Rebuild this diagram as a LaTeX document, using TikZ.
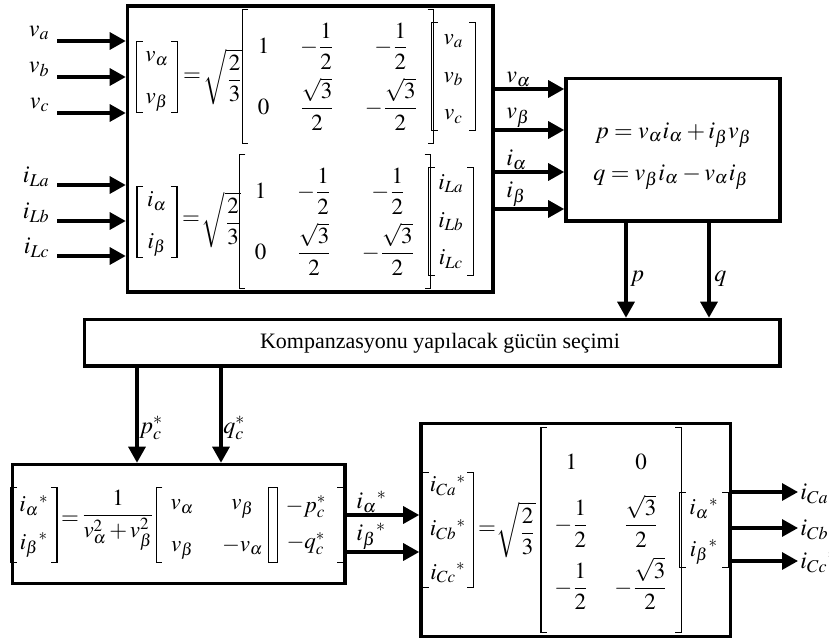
\documentclass[tikz,border=0pt]{standalone}
\usepackage{amsmath}
\usepackage{mathptmx}
\usepackage{fontspec}
\setmainfont{Liberation Serif}
\usetikzlibrary{arrows.meta,fit,calc}
\tikzset{
  blk/.style={draw, line width=1.8pt, inner sep=0pt},
  arr/.style={line width=1.6pt, -{Triangle[length=8pt,width=8.5pt]}},
  eq/.style={inner sep=0pt, font=\fontsize{11.5}{13.8}\selectfont},
  mx/.style 2 args={eq, minimum width=#1, minimum height=#2},
  brk/.style={line width=0.65pt},
  lbl/.style={inner sep=0pt, font=\fontsize{12}{14.4}\selectfont},
  txt/.style={inner sep=0pt, font=\fontsize{11}{13}\selectfont},
}
\newcommand\brak[1]{%
  \draw[brk] ([xshift=3pt]#1.north west) -- (#1.north west) -- (#1.south west) -- ([xshift=3pt]#1.south west);
  \draw[brk] ([xshift=-3pt]#1.north east) -- (#1.north east) -- (#1.south east) -- ([xshift=-3pt]#1.south east);}
\begin{document}
\begin{tikzpicture}[x=0.5pt,y=-0.5pt]
\useasboundingbox (0,0) rectangle (829,643);
% ---------- boxes
\coordinate (b1a) at (127.5,6);   \coordinate (b1b) at (493,292);
\coordinate (b2a) at (566,78.5);  \coordinate (b2b) at (780,221);
\coordinate (b3a) at (84.5,319.5);\coordinate (b3b) at (780,366);
\coordinate (b4a) at (12.5,464.5);\coordinate (b4b) at (345,583.5);
\coordinate (b5a) at (421,423.5); \coordinate (b5b) at (730.5,636.5);
\node[blk, fit=(b1a)(b1b)] (B1) {};
\node[blk, fit=(b2a)(b2b)] (B2) {};
\node[blk, fit=(b3a)(b3b)] (B3) {};
\node[blk, fit=(b4a)(b4b)] (B4) {};
\node[blk, fit=(b5a)(b5b)] (B5) {};
% ---------- box 1, upper equation
\node[mx={20pt}{35pt}] (LV1) at (157,77) {$\begin{matrix} v_\alpha\\[7pt] v_\beta\end{matrix}$};
\node[eq] (Q1) at (192,77) {$=$};
\node[eq] (S1) at (223,77) {$\sqrt{\dfrac{2}{3}}$};
\node[mx={90pt}{66.5pt}] (M1) at (338,76.5) {$\setlength{\arraycolsep}{7.5pt}\begin{array}{ccc} 1 & -\dfrac{1}{2} & -\dfrac{1}{2}\\[8pt] 0 & \dfrac{\sqrt{3}}{2} & -\dfrac{\sqrt{3}}{2}\end{array}$};
\node[mx={21.5pt}{53.5pt}] (RV1) at (453.5,76.5) {$\begin{matrix} v_a\\[5pt] v_b\\[5pt] v_c\end{matrix}$};
% ---------- box 1, lower equation
\node[mx={19.5pt}{35pt}] (LV2) at (157,222) {$\begin{matrix} i_\alpha\\[7pt] i_\beta\end{matrix}$};
\node[eq] (Q2) at (191,220) {$=$};
\node[eq] (S2) at (221.5,220) {$\sqrt{\dfrac{2}{3}}$};
\node[mx={88pt}{66.5pt}] (M2) at (335,221.5) {$\setlength{\arraycolsep}{7.5pt}\begin{array}{ccc} 1 & -\dfrac{1}{2} & -\dfrac{1}{2}\\[8pt] 0 & \dfrac{\sqrt{3}}{2} & -\dfrac{\sqrt{3}}{2}\end{array}$};
\node[mx={22pt}{53.5pt}] (RV2) at (451,221.5) {$\begin{matrix} i_{La}\\[5pt] i_{Lb}\\[5pt] i_{Lc}\end{matrix}$};
% ---------- inputs of box 1
\foreach \n/\y/\t in {a/41/v_a, b/77/v_b, c/113/v_c, d/185/i_{La}, e/221/i_{Lb}, f/256/i_{Lc}}{
  \coordinate (in\n) at (57,\y);
  \draw[arr] (in\n) -- (in\n -| B1.west);
  \node[lbl, anchor=east] (lin\n) at (50,\y-8) {$\t$};
}
% ---------- box 1 -> box 2
\foreach \n/\y/\t in {a/89/v_\alpha, b/130/v_\beta, c/172/i_\alpha, d/209/i_\beta}{
  \coordinate (o\n) at (0,\y);
  \draw[arr] (B1.east |- o\n) -- (B2.west |- o\n);
  \node[lbl, anchor=south west] (lo\n) at (506,\y-2) {$\t$};
}
% ---------- box 2
\node[lbl, anchor=base] (P) at (673.5,138) {$p = v_\alpha i_\alpha + i_\beta v_\beta$};
\node[lbl, anchor=base] (Qe) at (671,180) {$q = v_\beta i_\alpha - v_\alpha i_\beta$};
\coordinate (xp) at (626,0); \coordinate (xq) at (709,0);
\draw[arr] (B2.south -| xp) -- (B3.north -| xp);
\draw[arr] (B2.south -| xq) -- (B3.north -| xq);
\node[lbl, anchor=west] (lp) at (630,279) {$p$};
\node[lbl, anchor=west] (lq) at (714,279) {$q$};
% ---------- box 3
\node[txt] (T3) at (440,343) {Kompanzasyonu yapılacak gücün seçimi};
\coordinate (xpc) at (137,0); \coordinate (xqc) at (221,0);
\draw[arr] (B3.south -| xpc) -- (B4.north -| xpc);
\draw[arr] (B3.south -| xqc) -- (B4.north -| xqc);
\node[lbl, anchor=west] (lpc) at (139,428) {$p_c^{*}$};
\node[lbl, anchor=west] (lqc) at (223,428) {$q_c^{*}$};
% ---------- box 4
\node[mx={22.5pt}{37pt}] (LV4) at (34,525) {$\begin{matrix} i_\alpha{}^{*}\\[5pt] i_\beta{}^{*}\end{matrix}$};
\node[eq] (Q4) at (70,520) {$=$};
\node[eq] (F4) at (118,520) {$\dfrac{1}{v_\alpha^2\mskip2mu{+}\mskip2mu v_\beta^2}$};
\node[mx={48pt}{37pt}] (M4) at (217,525) {$\setlength{\arraycolsep}{7pt}\begin{array}{cc} v_\alpha & v_\beta\\[7pt] v_\beta & -v_\alpha\end{array}$};
\node[mx={37pt}{37pt}] (RV4) at (306,525) {$\begin{matrix} -p_c^{*}\\[4.5pt] -q_c^{*}\end{matrix}$};
% ---------- box 4 -> box 5
\foreach \n/\y/\t in {a/515/i_\alpha{}^{*}, b/552/i_\beta{}^{*}}{
  \coordinate (m\n) at (0,\y);
  \draw[arr] (B4.east |- m\n) -- (B5.west |- m\n);
  \node[lbl, anchor=south west] (lm\n) at (356,\y-2) {$\t$};
}
% ---------- box 5
\node[mx={25pt}{57pt}] (LV5) at (448,530) {$\begin{matrix} i_{Ca}{}^{*}\\[8pt] i_{Cb}{}^{*}\\[8pt] i_{Cc}{}^{*}\end{matrix}$};
\node[eq] (Q5) at (487,530) {$=$};
\node[eq] (S5) at (516,530) {$\sqrt{\dfrac{2}{3}}$};
\node[mx={65pt}{102pt}] (M5) at (611,530) {$\setlength{\arraycolsep}{6.5pt}\begin{array}{cc} 1 & 0\\[8.5pt] -\dfrac{1}{2} & \dfrac{\sqrt{3}}{2}\\[9pt] -\dfrac{1}{2} & -\dfrac{\sqrt{3}}{2}\end{array}$};
\node[mx={24pt}{37pt}] (RV5) at (704,530) {$\begin{matrix} i_\alpha{}^{*}\\[7pt] i_\beta{}^{*}\end{matrix}$};
% ---------- brackets
\foreach \b in {LV1,M1,RV1,LV2,M2,RV2,LV4,M4,RV4,LV5,M5,RV5}{\brak{\b}}
% ---------- outputs
\foreach \n/\y/\t in {a/492/i_{Ca}{}^{*}, b/528/i_{Cb}{}^{*}, c/561/i_{Cc}{}^{*}}{
  \coordinate (out\n) at (798,\y);
  \draw[arr] (B5.east |- out\n) -- (out\n);
  \node[lbl, anchor=west] (lout\n) at (800,\y+1) {$\t$};
}
\end{tikzpicture}
\end{document}
